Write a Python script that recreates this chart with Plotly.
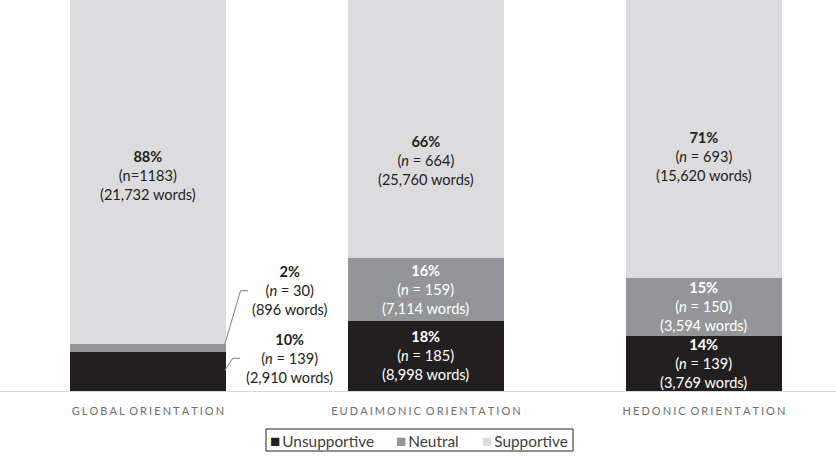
import plotly.graph_objects as go

# Orientation groups and response categories
categories = ["GLOBAL ORIENTATION", "EUDAIMONIC ORIENTATION", "HEDONIC ORIENTATION"]
series_names = ["Unsupportive", "Neutral", "Supportive"]

# Share of responses (%) per orientation
unsupportive_pct = [10, 18, 14]
neutral_pct = [2, 16, 15]
supportive_pct = [88, 66, 71]

# Number of responses per orientation
unsupportive_n = [139, 185, 139]
neutral_n = [30, 159, 150]
supportive_n = [1183, 664, 693]

# Word counts per orientation
unsupportive_words = [2910, 8998, 3769]
neutral_words = [896, 7114, 3594]
supportive_words = [21732, 25760, 15620]

colors = {"Unsupportive": "#231f20", "Neutral": "#939598", "Supportive": "#dcdcde"}
text_colors = {"Unsupportive": "#ffffff", "Neutral": "#ffffff", "Supportive": "#231f20"}
FONT = "Lato, 'Open Sans', sans-serif"

pct = {"Unsupportive": unsupportive_pct, "Neutral": neutral_pct, "Supportive": supportive_pct}
ns = {"Unsupportive": unsupportive_n, "Neutral": neutral_n, "Supportive": supportive_n}
words = {"Unsupportive": unsupportive_words, "Neutral": neutral_words, "Supportive": supportive_words}

x_pos = list(range(len(categories)))
BAR_W = 0.56


def spaced(label):
    # tracked-out capitals for the category axis
    gap = "\u2009\u200a"
    return (" " + gap).join(gap.join(word) for word in label.split(" "))


def label_text(name, i):
    if i == 0 and name == "Supportive":
        n_part = f"(n={ns[name][i]})"
    else:
        n_part = f"(<i>n</i> = {ns[name][i]})"
    return f"<b>{pct[name][i]}%</b><br>{n_part}<br>({words[name][i]:,} words)"


fig = go.Figure()
for name in series_names:
    fig.add_trace(go.Bar(
        x=x_pos, y=pct[name], name=name, width=BAR_W,
        marker=dict(color=colors[name], line=dict(width=0)),
        showlegend=False, hoverinfo="skip",
    ))

annotations = []
# vertical placement of the supportive labels within the tall segments
supportive_label_y = [55, 59, 60]

for i in x_pos:
    base = 0
    for name in series_names:
        v = pct[name][i]
        if name == "Supportive":
            ly, lx, col = supportive_label_y[i], i, text_colors[name]
        elif i == 0:
            # thin segments of the global bar are labelled beside the bar
            lx = 0.511
            ly = 25.6 if name == "Neutral" else 8.4
            col = "#231f20"
        else:
            ly, lx, col = base + v / 2, i, text_colors[name]
        annotations.append(dict(
            x=lx, y=ly, xref="x", yref="y", text=label_text(name, i),
            showarrow=False, xanchor="center", yanchor="middle",
            font=dict(family=FONT, size=14.6, color=col),
        ))
        base += v

# leader lines from the global bar's thin segments to their labels
shapes = [
    dict(type="path", xref="x", yref="y", path="M 0.276 11.8 L 0.333 25.65 L 0.36 25.65",
         line=dict(color="#7f7f7f", width=1)),
    dict(type="path", xref="x", yref="y", path="M 0.276 5.2 L 0.305 8.36 L 0.331 8.36",
         line=dict(color="#7f7f7f", width=1)),
]

# legend box with swatches
W, PLOT_H = 836, 391
shapes.append(dict(type="rect", xref="paper", yref="paper",
                   x0=266 / W, x1=573 / W, y0=(PLOT_H - 451) / PLOT_H, y1=(PLOT_H - 429) / PLOT_H,
                   line=dict(color="#231f20", width=1), fillcolor="rgba(0,0,0,0)"))
legend_x = [268, 394, 480]
for name, lx in zip(series_names, legend_x):
    annotations.append(dict(
        x=lx / W, y=(PLOT_H - 440) / PLOT_H, xref="paper", yref="paper",
        xanchor="left", yanchor="middle", showarrow=False,
        text=f"<span style='color:{colors[name]};font-size:17px'>\u25a0</span>\u2009{name}",
        font=dict(family=FONT, size=15.4, color="#404040"),
    ))

fig.update_layout(
    width=W, height=457,
    margin=dict(l=0, r=0, t=0, b=457 - PLOT_H),
    barmode="stack",
    plot_bgcolor="white", paper_bgcolor="white",
    showlegend=False,
    annotations=annotations, shapes=shapes,
    xaxis=dict(
        range=[-0.532, 2.475], tickmode="array", tickvals=x_pos,
        ticktext=[spaced(c) for c in categories],
        tickfont=dict(family=FONT, size=11, color="#6e6e6e"),
        showline=True, linecolor="#d9d9d9", linewidth=1,
        showgrid=False, zeroline=False, ticks="", ticklabelstandoff=10,
        fixedrange=True,
    ),
    yaxis=dict(range=[0, 100], visible=False, showgrid=False, zeroline=False, fixedrange=True),
)

fig.write_html("out.html")
